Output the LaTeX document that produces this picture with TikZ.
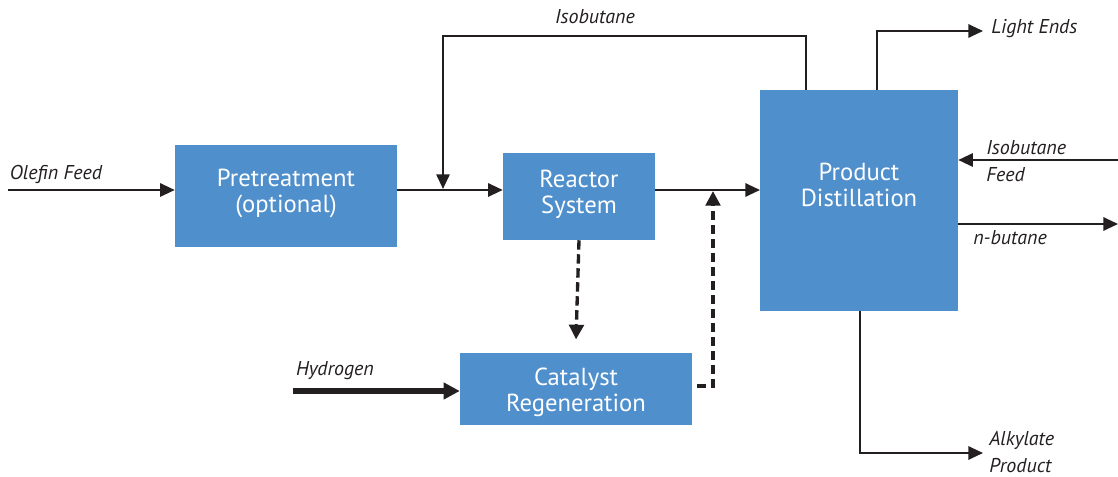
\documentclass[tikz,border=0pt]{standalone}
\usepackage{fontspec}
\setmainfont{PT Sans}
\usetikzlibrary{arrows.meta}
\definecolor{boxblue}{RGB}{79,143,204}
\definecolor{ink}{RGB}{35,31,32}
\tikzset{
  proc/.style={fill=boxblue, draw=none, text=white, align=center, font=\fontsize{18.5}{19.5}\selectfont, inner sep=0pt},
  proctext/.style={text=white, align=center, font=\fontsize{18.5}{19.5}\selectfont, inner sep=0pt},
  flow/.style={draw=ink, line width=1.5pt, -{Triangle[length=11pt,width=10pt]}},
  dflow/.style={draw=ink, line width=2.5pt, dash pattern=on 7pt off 3.5pt, -{Triangle[length=11pt,width=11pt]}},
  hflow/.style={draw=ink, line width=3.8pt, -{Triangle[length=12pt,width=12pt]}},
  lbl/.style={font=\itshape\fontsize{15}{17}\selectfont, text=ink, inner sep=0pt},
}
\begin{document}
\begin{tikzpicture}[x=0.75pt,y=-0.75pt]
\useasboundingbox (0,0) rectangle (1118,477);
% boxes
\node[proc, minimum width=222*0.75pt, minimum height=102*0.75pt] (pre) at (286,196) {};
\node[proctext] (preT) at (286,193) {Pretreatment\\(optional)};
\node[proc, minimum width=152*0.75pt, minimum height=87*0.75pt] (rx) at (579,196.5) {};
\node[proctext] (rxT) at (579,194) {Reactor\\System};
\node[proc, minimum width=198*0.75pt, minimum height=221*0.75pt] (pd) at (859,200.5) {};
\node[proctext] (pdT) at (859,185) {Product\\Distillation};
\node[proc, minimum width=232*0.75pt, minimum height=72*0.75pt] (cat) at (576,389) {};
\node[proctext] (catT) at (576,392) {Catalyst\\Regeneration};
% coordinates
\coordinate (olf) at (8,190);
\coordinate (pdin) at (760,190);
\coordinate (mix) at (443,190);
\coordinate (isoTopA) at (806,36);
\coordinate (isoTopB) at (443,36);
\coordinate (join) at (713,190);
\coordinate (catOut) at (697,386);
\coordinate (catCorner) at (713,386);
\coordinate (h2) at (293,391);
\coordinate (leA) at (877,31);
\coordinate (leEnd) at (983,31);
\coordinate (ibfStart) at (1118,160);
\coordinate (nbEnd) at (1118,224);
\coordinate (alkA) at (860,453);
\coordinate (alkEnd) at (983,453);
% connectors
\draw[flow] (olf) -- (pre.west |- olf);
\draw[flow] (pre.east |- olf) -- (rx.west |- olf);
\draw[flow] (rx.east |- olf) -- (pdin);
\draw[flow] (pd.north -| isoTopA) -- (isoTopA) -- (isoTopB) -- ([yshift=0.8pt]mix);
\draw[dflow] (rx.south) -- ([yshift=10pt]cat.north);
\draw[dflow] (catOut) -- (catCorner) -- ([yshift=-0.8pt]join);
\draw[hflow] (h2) -- (cat.west |- h2);
\draw[flow] (pd.north -| leA) -- (leA) -- (leEnd);
\draw[flow] (ibfStart) -- (pd.east |- ibfStart);
\draw[flow] (pd.east |- nbEnd) -- (nbEnd);
\draw[flow] (pd.south -| alkA) -- (alkA) -- (alkEnd);
% labels
\node[lbl] (tOlefin) at (56,174) {Olefin Feed};
\node[lbl] (tIso) at (595,17) {Isobutane};
\node[lbl] (tH2) at (335,371) {Hydrogen};
\node[lbl, anchor=west] (tLE) at (991,29) {Light Ends};
\node[lbl, anchor=west] (tIF1) at (986,148) {Isobutane};
\node[lbl, anchor=west] (tIF2) at (986,175) {Feed};
\node[lbl, anchor=west] (tNB) at (973,238) {n-butane};
\node[lbl, anchor=west] (tAlk1) at (989,440) {Alkylate};
\node[lbl, anchor=west] (tAlk2) at (989,466) {Product};
\end{tikzpicture}
\end{document}
